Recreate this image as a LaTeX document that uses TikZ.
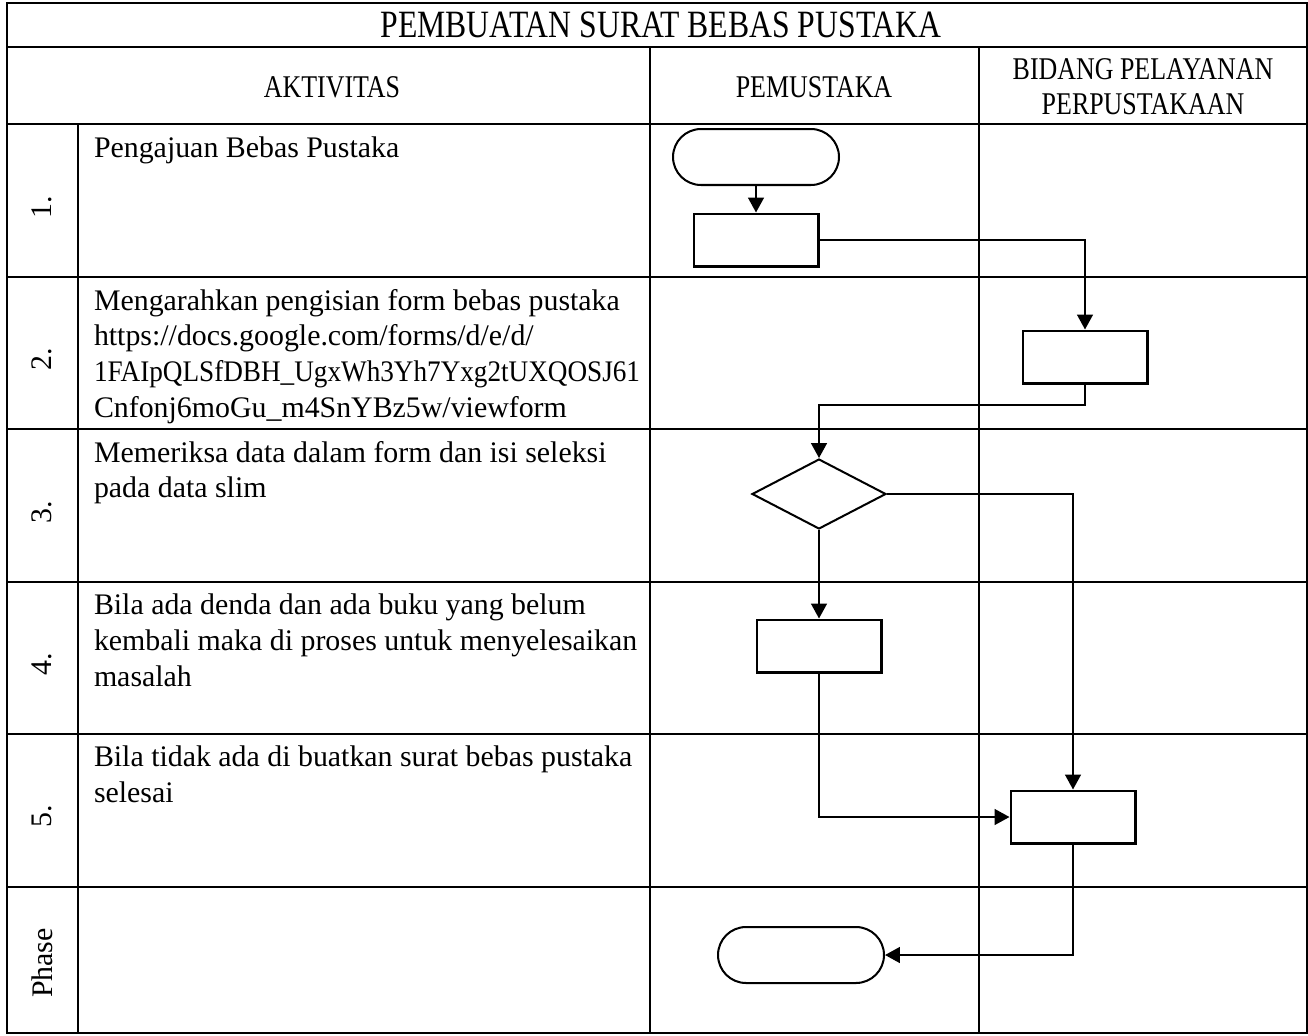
\documentclass[tikz,border=0pt]{standalone}
\usepackage{fontspec}
\setmainfont{Liberation Serif}
\newfontfamily\sempit[FakeStretch=0.82]{Liberation Serif}
\newfontfamily\rapat[FakeStretch=0.91]{Liberation Serif}
\usetikzlibrary{shapes.geometric,shapes.misc,arrows.meta}

\begin{document}
\begin{tikzpicture}[x=0.02cm,y=-0.02cm,line width=1.15pt,
        font=\fontsize{17}{20.4}\selectfont,
        mulai/.style={draw,rounded rectangle,minimum width=3.32cm,
            minimum height=1.12cm,inner sep=0pt},
        kotak/.style={draw,rectangle,minimum width=2.5cm,
            minimum height=1.06cm,inner sep=0pt},
        pilih/.style={draw,diamond,minimum width=2.68cm,
            minimum height=1.4cm,inner sep=0pt},
        panah/.style={-{Triangle[length=8.5pt,width=9pt]}},
        kepala/.style={font=\sempit\fontsize{18}{20}\selectfont,align=center},
        isi/.style={anchor=north west,align=left,inner sep=0pt},
        nomor/.style={rotate=90}]
\useasboundingbox (0,0) rectangle (1308,1035);

% tabel
\draw (7,3) rectangle (1307,1033);
\draw (7,47) -- (1307,47);
\draw (7,124) -- (1307,124);
\draw (7,277) -- (1307,277);
\draw (7,429) -- (1307,429);
\draw (7,582) -- (1307,582);
\draw (7,734) -- (1307,734);
\draw (7,887) -- (1307,887);
	\draw (78,124) -- (78,1033);
	\draw (650,47) -- (650,1033);
	\draw (979,47) -- (979,1033);

% judul dan kepala kolom
\node[kepala,font=\sempit\fontsize{22}{26}\selectfont] (judul) at (661,25) {PEMBUATAN SURAT BEBAS PUSTAKA};
\node[kepala] (aktivitas) at (332,87) {AKTIVITAS};
\node[kepala] (pemustaka) at (814,87) {PEMUSTAKA};
\node[kepala] (bidang) at (1143,87) {BIDANG PELAYANAN\\PERPUSTAKAAN};

\node[nomor] (n1) at (42,207) {1.};
\node[nomor] (n2) at (42,359) {2.};
\node[nomor] (n3) at (42,512) {3.};
\node[nomor] (n4) at (42,664) {4.};
\node[nomor] (n5) at (42,816) {5.};
\node[nomor] (fase) at (42,963) {Phase};

\node[isi] (t1) at (93,136) {Pengajuan Bebas Pustaka};
\node[isi] (t2) at (93,288) {Mengarahkan pengisian form bebas pustaka\\
    https://docs.google.com/forms/d/e/d/\\
    {\rapat 1FAIpQLSfDBH\_UgxWh3Yh7Yxg2tUXQOSJ61}\\
    Cnfonj6moGu\_m4SnYBz5w/viewform};
\node[isi] (t3) at (93,440) {Memeriksa data dalam form dan isi seleksi\\pada data slim};
\node[isi] (t4) at (93,593) {Bila ada denda dan ada buku yang belum\\
    kembali maka di proses untuk menyelesaikan\\masalah};
\node[isi] (t5) at (93,745) {Bila tidak ada di buatkan surat bebas pustaka\\selesai};

% bagan alir
\node[mulai] (awal) at (756,157) {};
\node[kotak] (p1) at (756,240) {};
\node[kotak] (p2) at (1085,357) {};
\node[pilih] (cek) at (819,494) {};
\node[kotak] (p4) at (819,646) {};
\node[kotak] (p5) at (1073,817) {};
\node[mulai] (akhir) at (801,955) {};

\draw[panah] (awal) -- (p1);
\draw[panah] (p1) -| (p2);
\draw[panah] (p2.south) -- ++(0,20) -| (cek);
\draw[panah] (cek) -| (p5);
\draw[panah] (cek) -- (p4);
\draw[panah] (p4) |- (p5);
\draw[panah] (p5) |- (akhir);
\end{tikzpicture}
\end{document}
